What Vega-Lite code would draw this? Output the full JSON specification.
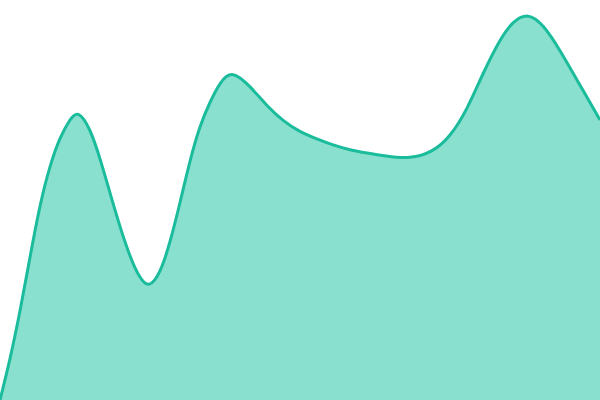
{
  "$schema": "https://vega.github.io/schema/vega-lite/v6.json",
  "width": 600,
  "height": 400,
  "autosize": "none",
  "padding": 0,
  "config": {"view": {"stroke": null}},
  "data": {
    "values": [
      {"x": 0, "v": 0},
      {"x": 10, "v": 40},
      {"x": 20, "v": 88},
      {"x": 30, "v": 143},
      {"x": 40, "v": 196},
      {"x": 50, "v": 235},
      {"x": 60, "v": 263},
      {"x": 70, "v": 281},
      {"x": 78, "v": 290},
      {"x": 90, "v": 272},
      {"x": 100, "v": 242},
      {"x": 110, "v": 207},
      {"x": 120, "v": 173},
      {"x": 130, "v": 143},
      {"x": 140, "v": 121},
      {"x": 149, "v": 112},
      {"x": 160, "v": 126},
      {"x": 170, "v": 157},
      {"x": 180, "v": 197},
      {"x": 190, "v": 240},
      {"x": 200, "v": 275},
      {"x": 210, "v": 298},
      {"x": 220, "v": 318},
      {"x": 232, "v": 330},
      {"x": 250, "v": 314},
      {"x": 267, "v": 294},
      {"x": 283, "v": 279},
      {"x": 300, "v": 268},
      {"x": 317, "v": 261},
      {"x": 333, "v": 255},
      {"x": 350, "v": 250},
      {"x": 367, "v": 247},
      {"x": 385, "v": 244},
      {"x": 410, "v": 241},
      {"x": 433, "v": 248},
      {"x": 450, "v": 263},
      {"x": 467, "v": 290},
      {"x": 483, "v": 327},
      {"x": 500, "v": 361},
      {"x": 513, "v": 379},
      {"x": 528, "v": 387},
      {"x": 543, "v": 376},
      {"x": 560, "v": 350},
      {"x": 577, "v": 320},
      {"x": 600, "v": 280}
    ]
  },
  "mark": {
    "type": "area",
    "interpolate": "basis",
    "color": "#89e0cf",
    "opacity": 1,
    "line": {"color": "#1abc9c", "strokeWidth": 3}
  },
  "encoding": {
    "x": {"field": "x", "type": "quantitative", "axis": null, "scale": {"domain": [0, 600], "nice": false, "zero": false}},
    "y": {"field": "v", "type": "quantitative", "axis": null, "scale": {"domain": [0, 400], "nice": false}}
  }
}
